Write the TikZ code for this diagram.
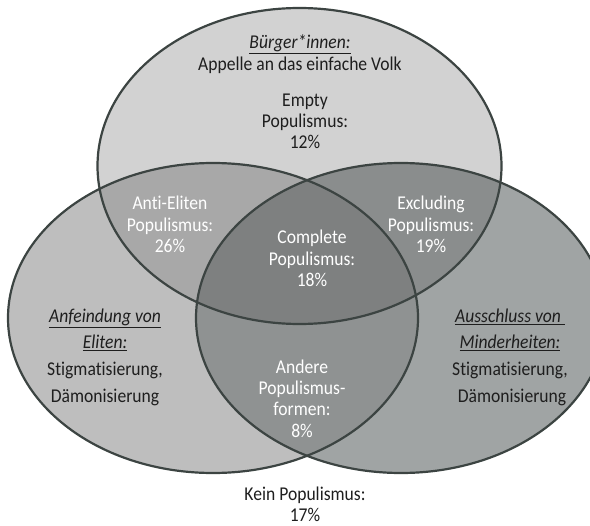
\documentclass[tikz,border=0pt]{standalone}
\usepackage{fontspec}
\setmainfont{Carlito}[FakeStretch=0.9, Ligatures=NoCommon]
\definecolor{cTop}{HTML}{D2D2D2}
\definecolor{cLeft}{HTML}{BEBEBE}
\definecolor{cRight}{HTML}{A0A4A4}
\definecolor{cTL}{HTML}{A8A8A8}
\definecolor{cTR}{HTML}{8A8D8D}
\definecolor{cLR}{HTML}{8F9292}
\definecolor{cAll}{HTML}{7E8080}
\definecolor{cLine}{HTML}{3C4442}
\definecolor{cText}{HTML}{1E1E1E}
\begin{document}
\begin{tikzpicture}[x=1bp,y=-1bp,
  setlabel/.style={font=\fontsize{19.6}{21.3}\selectfont, align=center, inner sep=0pt, text=cText},
  sidelabel/.style={font=\fontsize{19.6}{26.7}\selectfont, align=center, inner sep=0pt, text=cText},
  seclabel/.style={font=\fontsize{19.6}{21.3}\selectfont, align=center, inner sep=0pt, text=white},
  outline/.style={draw=cLine, line width=2.2bp}]
\useasboundingbox (0,0) rectangle (590,526);
\def\topE{(299.5,166) ellipse (202 and 158)}
\def\leftE{(213,318) ellipse (205 and 155)}
\def\rightE{(401,318) ellipse (205 and 155)}
\begin{scope}
\clip (0,0) rectangle (590,526);
\fill[cTop] \topE;
\fill[cLeft] \leftE;
\fill[cRight] \rightE;
\begin{scope}
  \clip \topE;
  \fill[cTL] \leftE;
  \fill[cTR] \rightE;
  \clip \leftE;
  \fill[cAll] \rightE;
\end{scope}
\begin{scope}
  \clip \leftE;
  \clip \rightE;
  \fill[even odd rule, cLR] (0,0) rectangle (590,526) \topE;
\end{scope}
\draw[outline] \topE;
\draw[outline] \leftE;
\draw[outline] \rightE;
\end{scope}
% labels
\node[setlabel] (buerger) at (300,44) {\underline{\itshape Bürger*innen:}};
\node[setlabel] (appelle) at (300,65) {Appelle an das einfache Volk};
\node[setlabel] (empty) at (305,121.5) {Empty\\Populismus:\\12\%};
\node[seclabel] (anti) at (170,224.5) {Anti-Eliten\\Populismus:\\26\%};
\node[seclabel] (excl) at (431,224.5) {Excluding\\Populismus:\\19\%};
\node[seclabel] (compl) at (312,258.5) {Complete\\Populismus:\\18\%};
\node[seclabel] (andere) at (302,398.5) {Andere\\Populismus-\\formen:\\8\%};
\node[sidelabel] (elit) at (105,357) {\underline{\itshape Anfeindung von}\\\underline{\itshape Eliten:}\\Stigmatisierung,\\Dämonisierung};
\node[sidelabel] (minder) at (510,357) {\underline{\itshape Ausschluss von\ }\\\underline{\itshape Minderheiten:}\\Stigmatisierung,\\\ Dämonisierung};
\node[setlabel] (kein) at (305,504.5) {Kein Populismus:\\17\%};
\end{tikzpicture}
\end{document}
